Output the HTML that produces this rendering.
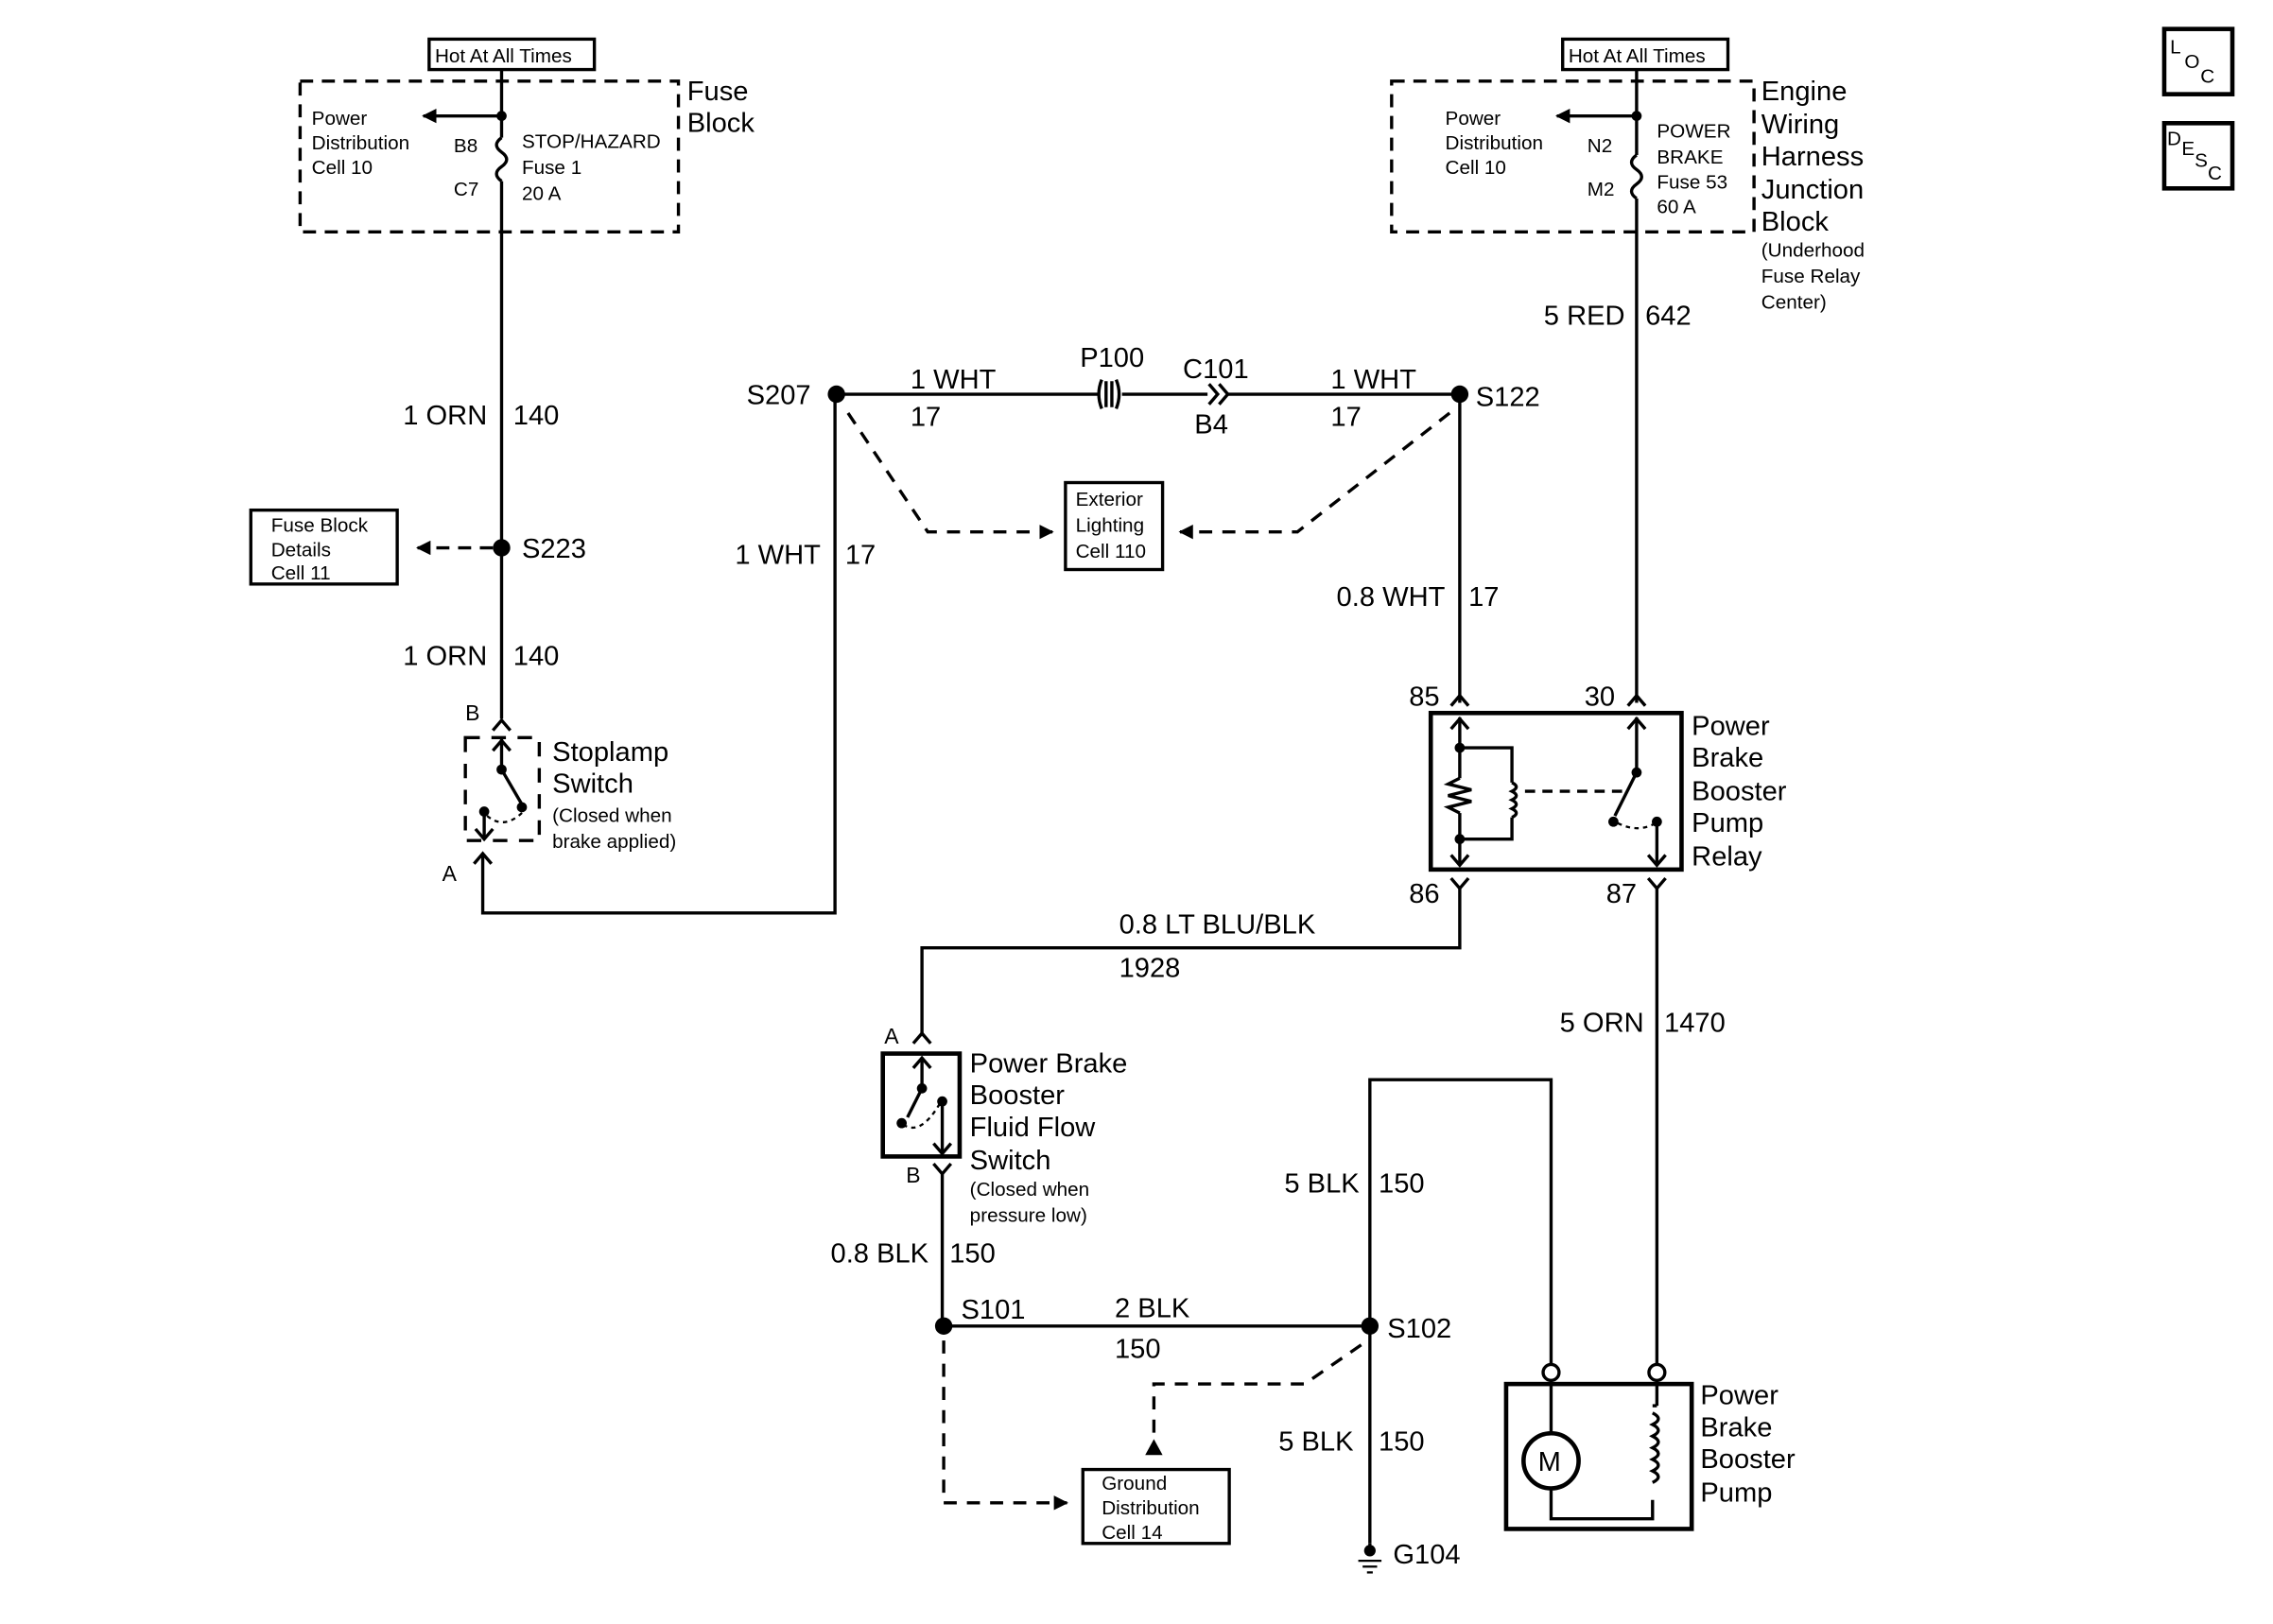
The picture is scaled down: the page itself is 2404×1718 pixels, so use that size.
<!DOCTYPE html>
<html><head><meta charset="utf-8"><style>
html,body{margin:0;padding:0;background:#fff}
svg{display:block}
text{font-family:"Liberation Sans",Arial,sans-serif;fill:#000}
.b{font-size:19px}.s{font-size:13.5px}.m{font-size:15px}
</style></head><body>
<svg width="2404" height="1718" viewBox="0 0 1568 1120.6" xmlns="http://www.w3.org/2000/svg">
<defs>
<marker id="ah" markerWidth="10" markerHeight="10" refX="9" refY="5" orient="auto" markerUnits="userSpaceOnUse"><path d="M0,0 L10,5 L0,10 z" fill="#000"/></marker>
</defs>
<g fill="none" stroke="#000" stroke-width="2.2">
<rect x="296" y="27" width="114" height="21"/>
<rect x="207" y="56" width="261" height="104" stroke-dasharray="9,6"/>
<line x1="346" y1="48" x2="346" y2="95"/>
<path d="M346,95 q-7,5 0,10 q7,5 0,10 q-7,5 0,10"/>
<line x1="346" y1="125" x2="346" y2="496"/>
<line x1="346" y1="80" x2="292" y2="80" marker-end="url(#ah)"/>
<line x1="340" y1="378" x2="288" y2="378" stroke-dasharray="9,6" marker-end="url(#ah)"/>
<rect x="173" y="352" width="101" height="51"/>
<path d="M340,504 L346,497 L352,504"/>
<rect x="321" y="509" width="51" height="71" stroke-dasharray="10,8"/>
<line x1="346" y1="510" x2="346" y2="531"/><path d="M340,518 L346,511 L352,518"/>
<line x1="346" y1="531" x2="360" y2="555"/>
<line x1="334" y1="558" x2="334" y2="578"/><path d="M328,572 L334,579 L340,572"/>
<path d="M336,563 q12,10 25,-3" stroke-dasharray="3,3" stroke-width="1.5"/>
<path d="M327,596 L333,589 L339,596"/>
<polyline points="333,590 333,630 576,630 576,272"/>
<line x1="577" y1="272" x2="758" y2="272"/>
<line x1="774" y1="272" x2="833" y2="272"/>
<path d="M760,262 q-4,10 0,20 M770,262 q4,10 0,20 M763,263 v18 M767,263 v18"/>
<path d="M834,265 l6,7 l-6,7 M841,265 l6,7 l-6,7"/>
<line x1="847" y1="272" x2="1007" y2="272"/>
<polyline points="585,285 640,367 726,367" stroke-dasharray="9,7" marker-end="url(#ah)"/>
<polyline points="1000,285 895,367 814,367" stroke-dasharray="9,7" marker-end="url(#ah)"/>
<rect x="735" y="333" width="67" height="60"/>
<line x1="1007" y1="272" x2="1007" y2="485"/>
<path d="M1001,487 L1007,480 L1013,487"/>
<rect x="1078" y="27" width="114" height="21"/>
<rect x="960" y="56" width="250" height="104" stroke-dasharray="9,6"/>
<line x1="1129" y1="48" x2="1129" y2="107"/>
<path d="M1129,107 q-7,5 0,10 q7,5 0,10 q-7,5 0,10"/>
<line x1="1129" y1="137" x2="1129" y2="485"/>
<path d="M1123,487 L1129,480 L1135,487"/>
<line x1="1129" y1="80" x2="1074" y2="80" marker-end="url(#ah)"/>
<rect x="987" y="492" width="173" height="108" stroke-width="3"/>
<line x1="1007" y1="495" x2="1007" y2="537"/>
<path d="M1007,537 l-8,4 l16,4 l-16,4 l16,4 l-16,4 l8,4"/>
<line x1="1007" y1="561" x2="1007" y2="597"/>
<path d="M1001,503 L1007,496 L1013,503 M1001,590 L1007,597 L1013,590"/>
<polyline points="1007,516 1043,516 1043,540"/>
<path d="M1043,540 q6,3 0,6 q6,3 0,6 q6,3 0,6 q6,3 0,6"/>
<polyline points="1043,564 1043,579 1007,579"/>
<line x1="1052" y1="546" x2="1124" y2="546" stroke-dasharray="7,5"/>
<line x1="1129" y1="495" x2="1129" y2="533"/>
<path d="M1123,503 L1129,496 L1135,503"/>
<line x1="1129" y1="533" x2="1114" y2="563"/>
<line x1="1143" y1="567" x2="1143" y2="597"/><path d="M1137,590 L1143,597 L1149,590"/>
<path d="M1116,568 q14,7 26,0" stroke-dasharray="3,3" stroke-width="1.5"/>
<path d="M1001,606 L1007,613 L1013,606 M1137,606 L1143,613 L1149,606"/>
<polyline points="1007,612 1007,654 636,654 636,715"/>
<path d="M630,720 L636,713 L642,720"/>
<line x1="1143" y1="612" x2="1143" y2="941"/>
<rect x="609" y="727" width="53" height="71" stroke-width="3"/>
<line x1="636" y1="730" x2="636" y2="751"/><path d="M630,737 L636,730 L642,737"/>
<line x1="636" y1="751" x2="626" y2="771"/>
<line x1="650" y1="760" x2="650" y2="795"/><path d="M644,789 L650,796 L656,789"/>
<path d="M623,776 q12,8 25,-14" stroke-dasharray="3,3" stroke-width="1.5"/>
<path d="M644,803 L650,810 L656,803"/>
<line x1="650" y1="810" x2="650" y2="915"/>
<line x1="651" y1="915" x2="945" y2="915"/>
<polyline points="945,1065 945,745 1070,745 1070,941"/>
<polyline points="651,925 651,1037 736,1037" stroke-dasharray="9,7" marker-end="url(#ah)"/>
<polyline points="939,928 900,955 796,955 796,1003" stroke-dasharray="9,7"/>
<rect x="747" y="1014" width="101" height="51"/>
<circle cx="1070" cy="947" r="5.5" fill="#fff"/>
<circle cx="1143" cy="947" r="5.5" fill="#fff"/>
<rect x="1039" y="955" width="128" height="100" stroke-width="3"/>
<line x1="1070" y1="953" x2="1070" y2="988"/>
<circle cx="1070" cy="1008" r="19" stroke-width="3"/>
<polyline points="1070,1027 1070,1048 1140,1048 1140,1035"/>
<line x1="1143" y1="953" x2="1143" y2="970"/>
<path d="M1140,975 q8,4 0,8 q8,4 0,8 q8,4 0,8 q8,4 0,8 q8,4 0,8 q8,4 0,8"/>
<line x1="1140" y1="970" x2="1143" y2="970"/>
<rect x="1493" y="20" width="47" height="45" stroke-width="3"/>
<rect x="1493" y="85" width="47" height="45" stroke-width="3"/>
<line x1="945" y1="1065" x2="945" y2="1072"/>
<line x1="937" y1="1077" x2="953" y2="1077" stroke-width="1.5"/>
<line x1="940" y1="1081" x2="950" y2="1081" stroke-width="1.5"/>
<line x1="943" y1="1085" x2="947" y2="1085" stroke-width="1.5"/>
</g>
<g fill="#000">
<circle cx="346" cy="80" r="3.5"/><circle cx="346" cy="378" r="6"/>
<circle cx="577" cy="272" r="6"/><circle cx="1007" cy="272" r="6"/>
<circle cx="1129" cy="80" r="3.5"/>
<circle cx="651" cy="915" r="6"/><circle cx="945" cy="915" r="6"/>
<circle cx="346" cy="531" r="3.5"/><circle cx="360" cy="557" r="3.5"/><circle cx="334" cy="560" r="3.5"/>
<circle cx="1007" cy="516" r="3.5"/><circle cx="1007" cy="579" r="3.5"/>
<circle cx="1129" cy="533" r="3.5"/><circle cx="1113" cy="567" r="3.5"/><circle cx="1143" cy="567" r="3.5"/>
<circle cx="636" cy="751" r="3.5"/><circle cx="622" cy="775" r="3.5"/><circle cx="650" cy="760" r="3.5"/>
<circle cx="945" cy="1070" r="4"/>
<path d="M790,1004 L796,993 L802,1004 z"/>
</g>
<g>
<text x="300" y="43" class="s">Hot At All Times</text>
<text x="474" y="69" class="b">Fuse</text><text x="474" y="91" class="b">Block</text>
<text x="215" y="86" class="s">Power</text><text x="215" y="103" class="s">Distribution</text><text x="215" y="120" class="s">Cell 10</text>
<text x="313" y="105" class="s">B8</text><text x="313" y="135" class="s">C7</text>
<text x="360" y="102" class="s">STOP/HAZARD</text><text x="360" y="120" class="s">Fuse 1</text><text x="360" y="138" class="s">20 A</text>
<text x="278" y="293" class="b">1 ORN</text><text x="354" y="293" class="b">140</text>
<text x="187" y="367" class="s">Fuse Block</text><text x="187" y="384" class="s">Details</text><text x="187" y="400" class="s">Cell 11</text>
<text x="360" y="385" class="b">S223</text>
<text x="278" y="459" class="b">1 ORN</text><text x="354" y="459" class="b">140</text>
<text x="321" y="497" class="m">B</text><text x="305" y="608" class="m">A</text>
<text x="381" y="525" class="b">Stoplamp</text><text x="381" y="547" class="b">Switch</text>
<text x="381" y="567" class="s">(Closed when</text><text x="381" y="585" class="s">brake applied)</text>
<text x="515" y="279" class="b">S207</text>
<text x="628" y="268" class="b">1 WHT</text><text x="628" y="294" class="b">17</text>
<text x="745" y="253" class="b">P100</text><text x="816" y="261" class="b">C101</text><text x="824" y="299" class="b">B4</text>
<text x="918" y="268" class="b">1 WHT</text><text x="918" y="294" class="b">17</text>
<text x="1018" y="280" class="b">S122</text>
<text x="742" y="349" class="s">Exterior</text><text x="742" y="367" class="s">Lighting</text><text x="742" y="385" class="s">Cell 110</text>
<text x="507" y="389" class="b">1 WHT</text><text x="583" y="389" class="b">17</text>
<text x="922" y="418" class="b">0.8 WHT</text><text x="1013" y="418" class="b">17</text>
<text x="1082" y="43" class="s">Hot At All Times</text>
<text x="997" y="86" class="s">Power</text><text x="997" y="103" class="s">Distribution</text><text x="997" y="120" class="s">Cell 10</text>
<text x="1095" y="105" class="s">N2</text><text x="1095" y="135" class="s">M2</text>
<text x="1143" y="95" class="s">POWER</text><text x="1143" y="113" class="s">BRAKE</text><text x="1143" y="130" class="s">Fuse 53</text><text x="1143" y="147" class="s">60 A</text>
<text x="1215" y="69" class="b">Engine</text><text x="1215" y="92" class="b">Wiring</text><text x="1215" y="114" class="b">Harness</text><text x="1215" y="137" class="b">Junction</text><text x="1215" y="159" class="b">Block</text>
<text x="1215" y="177" class="s">(Underhood</text><text x="1215" y="195" class="s">Fuse Relay</text><text x="1215" y="213" class="s">Center)</text>
<text x="1065" y="224" class="b">5 RED</text><text x="1135" y="224" class="b">642</text>
<text x="972" y="487" class="b">85</text><text x="1093" y="487" class="b">30</text>
<text x="972" y="623" class="b">86</text><text x="1108" y="623" class="b">87</text>
<text x="1167" y="507" class="b">Power</text><text x="1167" y="529" class="b">Brake</text><text x="1167" y="552" class="b">Booster</text><text x="1167" y="574" class="b">Pump</text><text x="1167" y="597" class="b">Relay</text>
<text x="772" y="644" class="b">0.8 LT BLU/BLK</text><text x="772" y="674" class="b">1928</text>
<text x="610" y="720" class="m">A</text><text x="625" y="816" class="m">B</text>
<text x="669" y="740" class="b">Power Brake</text><text x="669" y="762" class="b">Booster</text><text x="669" y="784" class="b">Fluid Flow</text><text x="669" y="807" class="b">Switch</text>
<text x="669" y="825" class="s">(Closed when</text><text x="669" y="843" class="s">pressure low)</text>
<text x="1076" y="712" class="b">5 ORN</text><text x="1148" y="712" class="b">1470</text>
<text x="886" y="823" class="b">5 BLK</text><text x="951" y="823" class="b">150</text>
<text x="573" y="871" class="b">0.8 BLK</text><text x="655" y="871" class="b">150</text>
<text x="663" y="910" class="b">S101</text>
<text x="769" y="909" class="b">2 BLK</text><text x="769" y="937" class="b">150</text>
<text x="957" y="923" class="b">S102</text>
<text x="882" y="1001" class="b">5 BLK</text><text x="951" y="1001" class="b">150</text>
<text x="961" y="1079" class="b">G104</text>
<text x="760" y="1028" class="s">Ground</text><text x="760" y="1045" class="s">Distribution</text><text x="760" y="1062" class="s">Cell 14</text>
<text x="1061" y="1015" class="b">M</text>
<text x="1173" y="969" class="b">Power</text><text x="1173" y="991" class="b">Brake</text><text x="1173" y="1013" class="b">Booster</text><text x="1173" y="1036" class="b">Pump</text>
<text x="1497" y="37" class="s">L</text><text x="1507" y="47" class="s">O</text><text x="1518" y="57" class="s">C</text>
<text x="1495" y="100" class="s">D</text><text x="1505" y="107" class="s">E</text><text x="1514" y="115" class="s">S</text><text x="1523" y="124" class="s">C</text>
</g>
</svg>
</body></html>
